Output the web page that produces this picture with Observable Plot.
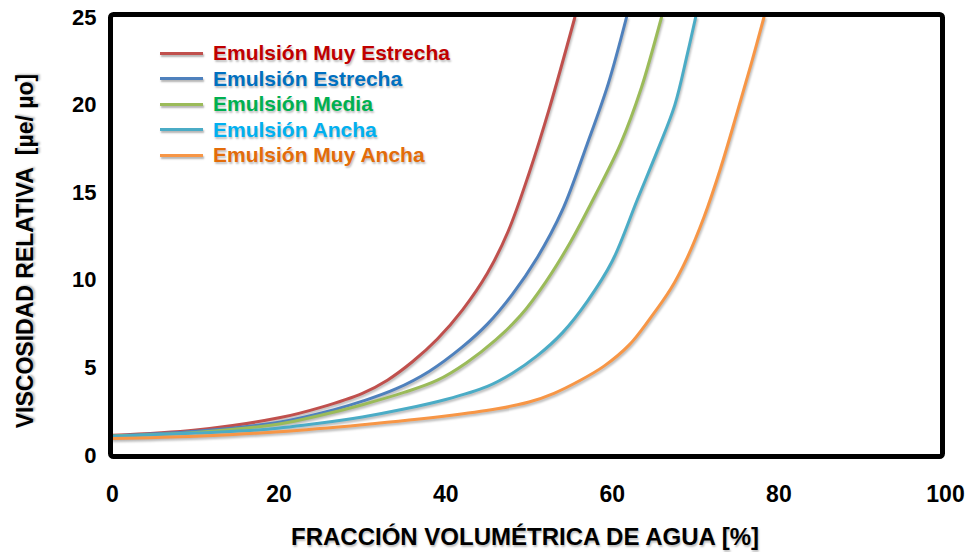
<!DOCTYPE html>
<html>
<head>
<meta charset="utf-8">
<script src="https://cdn.jsdelivr.net/npm/d3@7"></script>
<script src="https://cdn.jsdelivr.net/npm/@observablehq/plot@0.6"></script>
<style>
  body { margin: 0; background: #fff; }
  #wrap { position: relative; width: 977px; height: 552px; font-family: "Liberation Sans", Arial, sans-serif; }
  #wrap svg { font-family: "Liberation Sans", Arial, sans-serif; font-weight: bold; }
  #wrap svg g[aria-label="line"] { filter: drop-shadow(1px 2px 1.2px rgba(0,0,0,0.28)); }
  #wrap svg g[aria-label="frame"] { filter: drop-shadow(1px 1px 1px rgba(0,0,0,0.25)); }
  .title { position: absolute; font-weight: bold; color: #000; white-space: nowrap; text-shadow: 1px 2px 2px rgba(0,0,0,0.25); line-height: 1; }
  .legitem { position: absolute; left: 160px; height: 24px; display: flex; align-items: center; white-space: nowrap; }
  .legitem .sw { width: 43px; height: 3px; box-shadow: 1px 2px 2px rgba(0,0,0,0.3); }
  .legitem .lb { margin-left: 10px; font-weight: bold; font-size: 21px; text-shadow: 1px 2px 2px rgba(0,0,0,0.25); }
</style>
</head>
<body>
<div id="wrap"></div>
<script>
// ---- Data ----
const seriesNames = ["Emulsión Muy Estrecha", "Emulsión Estrecha", "Emulsión Media", "Emulsión Ancha", "Emulsión Muy Ancha"];
const lineColors  = ["#C0504D", "#4F81BD", "#9BBB59", "#4BACC6", "#F79646"];
const labelColors = ["#C00000", "#0070C0", "#00B050", "#00B0F0", "#E36C09"];

const xMuyEstrecha = [0, 10, 20, 25, 30, 33, 36, 39, 42, 45, 47.5, 50, 52.5, 55.5];
const yMuyEstrecha = [1.15, 1.45, 2.15, 2.75, 3.55, 4.3, 5.35, 6.65, 8.3, 10.4, 12.8, 16.1, 19.9, 25];

const xEstrecha = [0, 10, 20, 26.5, 30, 34, 38, 42, 45, 48, 51, 54, 57, 59.5, 61.7];
const yEstrecha = [1.12, 1.38, 1.9, 2.6, 3.1, 3.8, 4.8, 6.2, 7.5, 9.2, 11.3, 14.0, 17.8, 21.2, 25];

const xMedia = [0, 10, 20, 25, 30, 35, 39, 42.5, 46, 49, 52, 55, 58, 61, 63.5, 65.9];
const yMedia = [1.12, 1.32, 1.8, 2.3, 2.9, 3.6, 4.3, 5.3, 6.6, 8.0, 9.9, 12.2, 14.9, 17.8, 21.0, 25];

const xAncha = [0, 10, 18.6, 25, 30, 35, 40, 45, 48, 51, 54, 57, 60, 63, 65.5, 67.5, 69, 70];
const yAncha = [1.1, 1.28, 1.5, 1.85, 2.2, 2.65, 3.2, 3.95, 4.7, 5.7, 7.0, 8.8, 11.1, 14.6, 17.5, 20.0, 22.9, 25];

const xMuyAncha = [0, 10, 20, 30, 40, 46, 50, 53, 56, 59, 62, 64.5, 67, 69, 71, 73, 75, 76.7, 78.2];
const yMuyAncha = [0.97, 1.1, 1.35, 1.75, 2.25, 2.65, 3.05, 3.55, 4.25, 5.1, 6.3, 7.8, 9.5, 11.3, 13.6, 16.4, 19.6, 22.4, 25];

const xTicks = [0, 20, 40, 60, 80, 100];
const yTicks = [0, 5, 10, 15, 20, 25];
const xTitle = "FRACCIÓN VOLUMÉTRICA DE AGUA [%]";
const yTitle = "VISCOSIDAD RELATIVA  [µe/ µo]";

// ---- Build table ----
const xs = [xMuyEstrecha, xEstrecha, xMedia, xAncha, xMuyAncha];
const ys = [yMuyEstrecha, yEstrecha, yMedia, yAncha, yMuyAncha];
const rows = [];
seriesNames.forEach((name, i) => {
  xs[i].forEach((x, j) => rows.push({series: name, x, y: ys[i][j]}));
});

const chart = Plot.plot({
  width: 977,
  height: 552,
  marginLeft: 112,
  marginRight: 32,
  marginTop: 17,
  marginBottom: 97,
  style: {background: "#fff", overflow: "visible"},
  x: {domain: [0, 100]},
  y: {domain: [0, 25]},
  color: {domain: seriesNames, range: lineColors},
  marks: [
    Plot.line(rows, {x: "x", y: "y", z: "series", stroke: "series", strokeWidth: 3, curve: "catmull-rom"}),
    Plot.frame({stroke: "#000", strokeWidth: 5, rx: 3, insetLeft: -2, insetRight: 3, insetTop: -3, insetBottom: -1}),
    Plot.axisX({ticks: xTicks, tickSize: 0, tickPadding: 30, fontSize: 23, label: null, tickFormat: d => String(d)}),
    Plot.axisY({ticks: yTicks, tickSize: 0, tickPadding: 16, fontSize: 22, label: null, tickFormat: d => String(d)})
  ]
});

const wrap = document.getElementById("wrap");
wrap.appendChild(chart);
d3.select(chart).selectAll('g[aria-label="x-axis tick label"] text, g[aria-label="y-axis tick label"] text').attr("fill", "#000");

// ---- Axis titles (HTML overlay) ----
const xt = document.createElement("div");
xt.className = "title";
xt.textContent = xTitle;
xt.style.fontSize = "24px";
xt.style.left = "525px";
xt.style.top = "537px";
xt.style.transform = "translate(-50%, -50%)";
wrap.appendChild(xt);

const yt = document.createElement("div");
yt.className = "title";
yt.textContent = yTitle;
yt.style.fontSize = "23px";
yt.style.left = "25px";
yt.style.top = "251px";
yt.style.transform = "translate(-50%, -50%) rotate(-90deg)";
yt.style.whiteSpace = "pre";
wrap.appendChild(yt);

// ---- Legend (HTML overlay) ----
seriesNames.forEach((name, i) => {
  const item = document.createElement("div");
  item.className = "legitem";
  item.style.top = (53 + i * 25.5 - 12) + "px";
  const sw = document.createElement("div");
  sw.className = "sw";
  sw.style.background = lineColors[i];
  const lb = document.createElement("span");
  lb.className = "lb";
  lb.style.color = labelColors[i];
  lb.textContent = name;
  item.appendChild(sw);
  item.appendChild(lb);
  wrap.appendChild(item);
});
</script>
</body>
</html>
